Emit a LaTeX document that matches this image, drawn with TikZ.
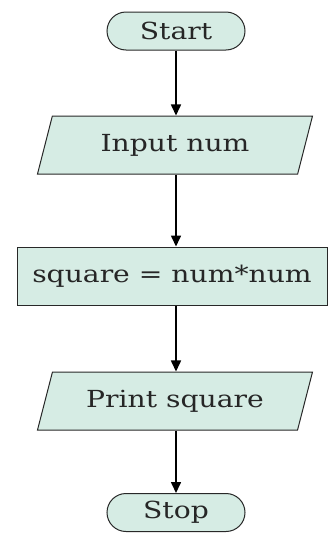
\documentclass[tikz,border=0pt]{standalone}
\usepackage{fontspec}
\setmainfont{DejaVu Serif}[FakeStretch=1.2]
\usetikzlibrary{shapes.geometric,arrows.meta}

\definecolor{boxfill}{RGB}{214,236,228}
\definecolor{boxline}{RGB}{40,40,40}

\tikzset{
  flowbox/.style={draw=boxline, line width=1pt, fill=boxfill, inner sep=0pt,
    text=black!85, font=\fontsize{23.5}{28}\selectfont},
  terminal/.style={flowbox, rectangle, rounded corners=19pt,
    minimum width=138pt, minimum height=38pt},
  iobox/.style={flowbox, trapezium, trapezium left angle=56,
    trapezium right angle=124, trapezium stretches body,
    minimum width=275pt, minimum height=58pt},
  processbox/.style={flowbox, rectangle, minimum width=310pt, minimum height=58pt},
  flowarrow/.style={line width=1.6pt, -{Triangle[width=10pt,length=11pt]}}
}

\begin{document}
\begin{tikzpicture}[x=1pt,y=-1pt]
\useasboundingbox (0,0) rectangle (327,533);

% caixas
\node[terminal]   (start)  at (176,31)    {Start};
\node[iobox]      (input)  at (175,145)   {Input num};
\node[processbox] (square) at (172,276)   {square = num*num};
\node[iobox]      (print)  at (175,401)   {Print square};
\node[terminal]   (stop)   at (176,512.5) {Stop};

% setas
\draw[flowarrow] (start.south) -- (start.south |- input.north);
\draw[flowarrow] (input.south -| start.south) -- (start.south |- square.north);
\draw[flowarrow] (square.south -| start.south) -- (start.south |- print.north);
\draw[flowarrow] (print.south -| start.south) -- (stop.north);

\end{tikzpicture}
\end{document}
